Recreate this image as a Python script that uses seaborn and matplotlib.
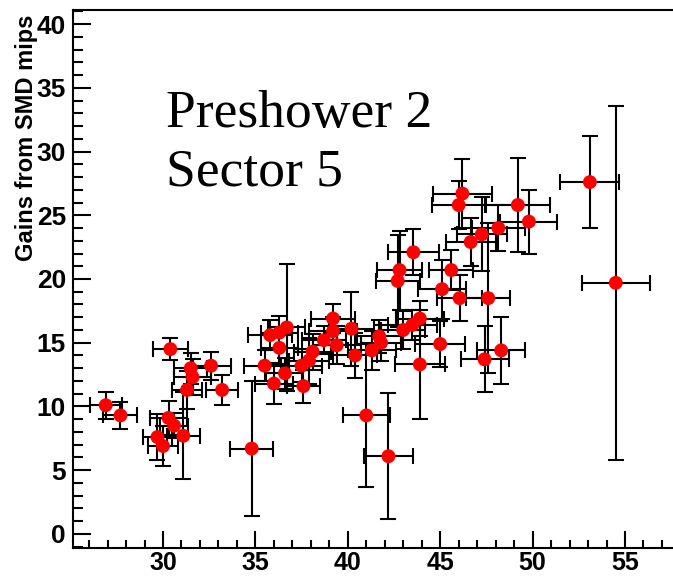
import numpy as np
import pandas as pd
import matplotlib
matplotlib.use("Agg")
import matplotlib.pyplot as plt
from matplotlib.ticker import MultipleLocator
import seaborn as sns

# ---- data ----
x_vals = [26.9, 27.7, 30.4, 29.7, 30.0, 30.3, 30.6, 31.1, 31.3, 31.5, 31.6, 32.6, 33.2,
          34.8, 35.5, 36.0, 35.8, 36.3, 36.7, 36.3, 36.6, 37.5, 37.6, 37.9, 38.1, 38.7,
          39.2, 39.2, 39.4, 40.2, 40.4, 41.3, 41.7, 41.8, 41.0, 42.2,
          43.0, 43.5, 43.9, 43.9, 42.7, 42.8, 43.55, 45.0, 45.1, 45.6, 46.05, 46.0, 46.2,
          46.65, 47.25, 48.15, 47.6, 47.4, 48.3, 49.2, 49.8, 53.1, 54.5]
y_vals = [10.1, 9.3, 14.5, 7.6, 6.9, 9.1, 8.5, 7.7, 11.3, 13.0, 12.3, 13.2, 11.3,
          6.7, 13.2, 11.8, 15.6, 15.8, 16.2, 14.6, 12.6, 13.2, 11.6, 13.6, 14.3, 15.2,
          16.9, 15.9, 14.8, 16.1, 14.0, 14.4, 15.5, 15.0, 9.3, 6.1,
          16.0, 16.4, 16.9, 13.3, 19.85, 20.7, 22.1, 14.9, 19.2, 20.7, 18.5, 25.8, 26.7,
          22.9, 23.5, 24.0, 18.5, 13.7, 14.4, 25.8, 24.5, 27.6, 19.7]
x_err = [0.86, 0.92, 0.95, 0.77, 0.82, 1.0, 0.77, 0.9, 0.82, 0.9, 1.0, 1.1, 0.87,
         1.17, 1.1, 1.04, 1.2, 1.0, 1.0, 1.0, 1.0, 1.1, 0.9, 1.1, 1.0, 1.2,
         1.2, 1.3, 1.3, 1.2, 1.2, 1.3, 1.2, 1.1, 1.27, 1.32,
         1.2, 1.3, 1.3, 1.36, 1.2, 1.2, 1.36, 1.36, 1.3, 1.18, 1.2, 1.45, 1.6,
         1.36, 1.36, 1.43, 1.2, 1.3, 1.3, 1.72, 1.54, 1.6, 1.85]
y_err = [1.07, 1.04, 0.88, 1.8, 1.6, 1.3, 1.0, 3.4, 1.5, 1.2, 1.4, 1.1, 1.2,
         5.3, 1.2, 1.6, 1.2, 1.3, 5.0, 1.3, 1.2, 1.3, 1.3, 1.8, 1.4, 1.1,
         1.1, 1.1, 1.5, 2.9, 1.8, 1.5, 1.3, 1.4, 5.6, 4.95,
         1.5, 1.2, 1.4, 4.3, 3.6, 3.1, 1.8, 1.8, 2.3, 1.6, 1.8, 1.9, 2.7,
         1.9, 2.9, 1.8, 5.9, 2.6, 2.6, 3.7, 2.5, 3.6, 13.9]

x_ticks = [30, 35, 40, 45, 50, 55]
y_ticks = [0, 5, 10, 15, 20, 25, 30, 35, 40]
y_label = "Gains from SMD mips"
annotation = ["Preshower 2", "Sector 5"]

df = pd.DataFrame({"x": x_vals, "y": y_vals, "xerr": x_err, "yerr": y_err})

sns.set_style("ticks")
plt.rcParams["font.family"] = ["Liberation Sans", "DejaVu Sans"]
plt.rcParams["text.color"] = "black"
plt.rcParams["axes.labelcolor"] = "black"
plt.rcParams["xtick.color"] = "black"
plt.rcParams["ytick.color"] = "black"

W, H = 673, 578
fig = plt.figure(figsize=(W / 100, H / 100), dpi=100)
left_px, right_px, top_px, bottom_px = 73, 680, 10, 548
ax = fig.add_axes([left_px / W, 1 - bottom_px / H,
                   (right_px - left_px) / W, (bottom_px - top_px) / H])

ax.errorbar(df["x"], df["y"], xerr=df["xerr"], yerr=df["yerr"], fmt="none",
            ecolor="black", elinewidth=1.5, capsize=5.5, capthick=1.5, zorder=2)
sns.scatterplot(data=df, x="x", y="y", ax=ax, color="#ff0000", s=100,
                edgecolor="none", linewidth=0, zorder=3, legend=False)

ax.set_xlim(25.13, 25.13 + (right_px - left_px) / 18.48)
ax.set_ylim(-1.1, 41.1)
ax.set_xticks(x_ticks)
ax.set_yticks(y_ticks)
ax.xaxis.set_minor_locator(MultipleLocator(1))
ax.yaxis.set_minor_locator(MultipleLocator(1))
ax.tick_params(axis="both", which="both", direction="in", colors="black")
ax.tick_params(axis="x", which="major", length=12, width=1.5, pad=2.5,
               labelsize=18)
ax.tick_params(axis="x", which="minor", length=5.5, width=1.5)
ax.tick_params(axis="y", which="major", length=13, width=1.5, pad=5,
               labelsize=19)
ax.tick_params(axis="y", which="minor", length=7, width=1.5)
for lab in ax.get_xticklabels() + ax.get_yticklabels():
    lab.set_fontweight("bold")
for sp in ax.spines.values():
    sp.set_linewidth(1.5)
    sp.set_color("black")
ax.set_xlabel("")
ax.set_ylabel("")

fig.text(27 / W, 1 - 138 / H, y_label, rotation=90, ha="center", va="center",
         fontsize=17, fontweight="bold", color="black")

fig.text(166 / W, 1 - 127 / H, annotation[0], ha="left", va="baseline",
         fontsize=38.5, color="black", family=["Liberation Serif", "DejaVu Serif"])
fig.text(166 / W, 1 - 186 / H, annotation[1], ha="left", va="baseline",
         fontsize=38.5, color="black", family=["Liberation Serif", "DejaVu Serif"])

fig.savefig("out.png", dpi=100)
